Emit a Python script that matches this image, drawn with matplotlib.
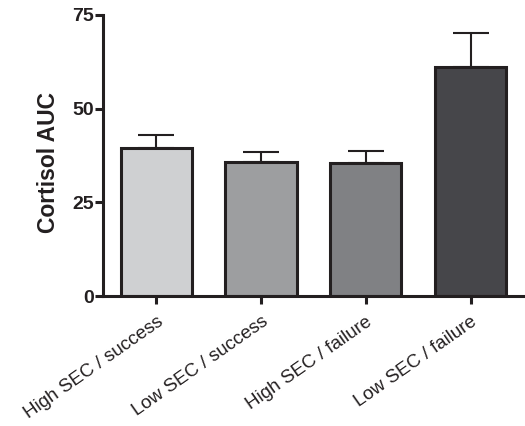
import matplotlib
matplotlib.use("Agg")
import matplotlib.pyplot as plt

groups = ["High SEC / success", "Low SEC / success", "High SEC / failure", "Low SEC / failure"]
means = [39.5, 35.8, 35.4, 61.2]
errors = [3.5, 2.7, 3.3, 9.0]
colors = ["#cfd0d2", "#9d9ea0", "#808184", "#46464a"]
yticks = [0, 25, 50, 75]

plt.rcParams['font.family'] = ['Liberation Sans', 'DejaVu Sans']

fig = plt.figure(figsize=(5.25, 4.26), dpi=100)
ax = fig.add_axes([0.196, 0.305, 0.802, 0.66])

x = range(len(groups))
ax.bar(x, means, width=0.68, color=colors, edgecolor="#231f20", linewidth=2.2, zorder=2)
ax.errorbar(x, means, yerr=[[0] * len(errors), errors], fmt="none", ecolor="#231f20",
            elinewidth=1.5, capsize=13, capthick=1.5, zorder=1)

ax.set_xlim(-0.51, 3.51)
ax.set_ylim(0, 75)
ax.set_yticks(yticks)
ax.set_yticklabels([str(v) for v in yticks], fontweight="bold", fontsize=14, color="#231f20")
ax.set_xticks(list(x))
ax.set_xticklabels(groups, rotation=35, ha="right", rotation_mode="anchor",
                   fontsize=13.5, color="#231f20")
ax.set_ylabel("Cortisol AUC", fontweight="bold", fontsize=16.5, color="#231f20")
ax.yaxis.set_label_coords(-0.102, 0.475)

for side in ["top", "right"]:
    ax.spines[side].set_visible(False)
for side in ["left", "bottom"]:
    ax.spines[side].set_linewidth(2.2)
    ax.spines[side].set_color("#231f20")
ax.tick_params(axis="both", width=2.2, length=5.5, color="#231f20")
ax.tick_params(axis="y", pad=1)
ax.tick_params(axis="x", pad=7)

fig.savefig("out.png", dpi=100)
